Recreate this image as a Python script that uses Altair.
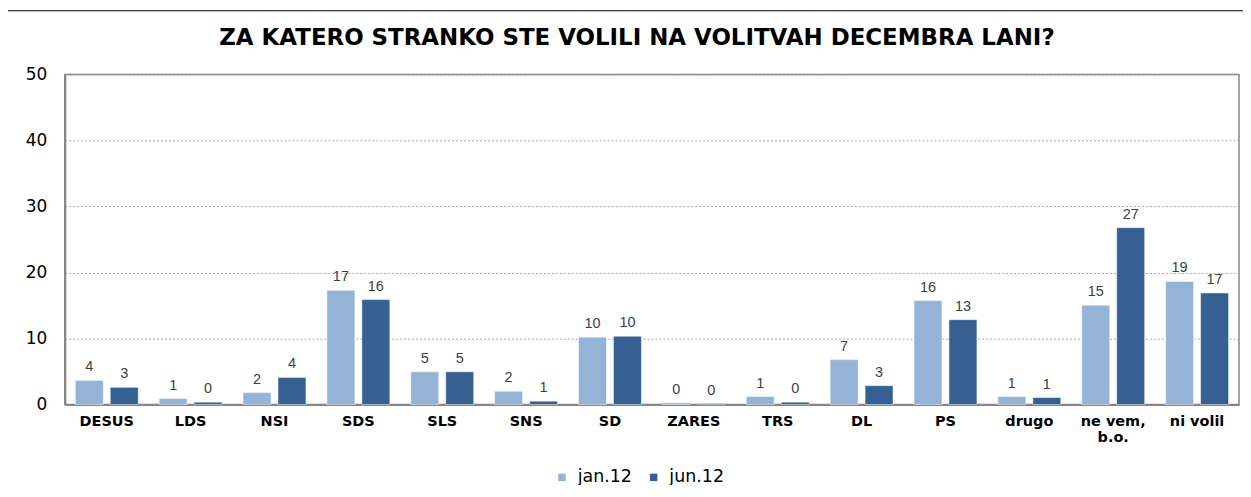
import altair as alt
import pandas as pd

categories = ["DESUS", "LDS", "NSI", "SDS", "SLS", "SNS", "SD", "ZARES",
              "TRS", "DL", "PS", "drugo", "ne vem, b.o.", "ni volil"]
series = ["jan.12", "jun.12"]
jan_values = [3.65, 0.9, 1.8, 17.3, 4.95, 2.0, 10.2, 0.25, 1.2, 6.8, 15.75, 1.2, 15.05, 18.65]
jun_values = [2.6, 0.35, 4.1, 15.9, 4.95, 0.5, 10.35, 0.15, 0.35, 2.85, 12.85, 1.05, 26.8, 16.9]
jan_labels = [4, 1, 2, 17, 5, 2, 10, 0, 1, 7, 16, 1, 15, 19]
jun_labels = [3, 0, 4, 16, 5, 1, 10, 0, 0, 3, 13, 1, 27, 17]
colors = ["#95B3D7", "#366092"]
title_text = "ZA KATERO STRANKO STE VOLILI NA VOLITVAH DECEMBRA LANI?"

rows = []
for i, c in enumerate(categories):
    rows.append({"party": c, "series": series[0], "value": jan_values[i], "label": str(jan_labels[i])})
    rows.append({"party": c, "series": series[1], "value": jun_values[i], "label": str(jun_labels[i])})
df = pd.DataFrame(rows)

FONT = "DejaVu Sans"
NUMFONT = "Liberation Sans"
W, H = 1178, 331

x_enc = alt.X("party:N", sort=categories,
              scale=alt.Scale(paddingInner=0.25, paddingOuter=0.125),
              axis=alt.Axis(title=None, labelAngle=0, labelFontWeight="bold", labelFontSize=14.5,
                            labelFont=FONT, labelColor="black", ticks=False, labelPadding=10,
                            domainColor="#868686", domainWidth=2, labelLineHeight=16,
                            labelExpr="datum.label == 'ne vem, b.o.' ? ['ne vem,', 'b.o.'] : datum.label"))
xo_enc = alt.XOffset("series:N", sort=series, scale=alt.Scale(paddingInner=0.2, paddingOuter=0))
y_enc = alt.Y("value:Q", scale=alt.Scale(domain=[0, 50], nice=False),
              axis=alt.Axis(title=None, values=[0, 10, 20, 30, 40, 50], labelFontSize=17,
                            labelFont=FONT, labelColor="black", ticks=False, labelPadding=18,
                            domainColor="#868686", domainWidth=2,
                            gridColor="#A6A6A6", gridDash=[2, 2], gridWidth=1))

base = alt.Chart(df)
bars = base.mark_bar(stroke="white", strokeWidth=0.8, strokeOpacity=0.6).encode(
    x=x_enc, xOffset=xo_enc, y=y_enc,
    color=alt.Color("series:N", sort=series,
                    scale=alt.Scale(domain=series, range=colors),
                    legend=alt.Legend(title=None, orient="none", legendX=490, legendY=395,
                                      direction="horizontal", symbolType="square",
                                      symbolSize=56, symbolStrokeWidth=0,
                                      labelFontSize=17.5, labelFont=FONT, labelColor="black",
                                      columnPadding=12, labelOffset=7)),
)
texts = base.mark_text(baseline="alphabetic", dy=-9, fontSize=14.5, font=NUMFONT, color="#404040").encode(
    x=x_enc, xOffset=xo_enc, y=y_enc, text="label:N"
)

single = alt.Data(values=[{"t": title_text}])
title_mark = alt.Chart(single).mark_text(
    font=FONT, fontSize=23, fontWeight="bold", color="black", align="center", baseline="alphabetic"
).encode(x=alt.value(W / 2 - 15), y=alt.value(-30), text="t:N")
left_line = alt.Chart(single).mark_rule(color="black", strokeWidth=1).encode(
    x=alt.value(-57.5), y=alt.value(-64), y2=alt.value(520))
top_line = alt.Chart(single).mark_rule(color="black", strokeWidth=1).encode(
    x=alt.value(-57.5), x2=alt.value(1300), y=alt.value(-64))

chart = alt.layer(bars, texts, title_mark, left_line, top_line).properties(
    width=W, height=H,
    autosize=alt.AutoSizeParams(type="none"),
    padding={"left": 57, "top": 66, "right": 4, "bottom": 80},
).configure_view(stroke="#868686", strokeWidth=1.5)

chart.save("out.html", embed_options={"renderer": "svg", "actions": False})
